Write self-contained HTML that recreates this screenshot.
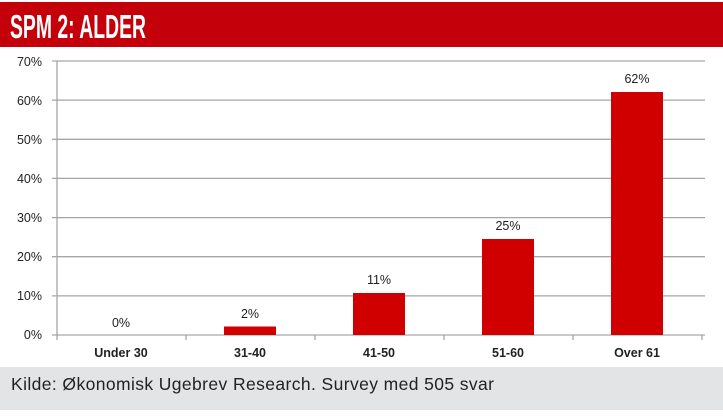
<!DOCTYPE html>
<html><head><meta charset="utf-8"><style>
body{margin:0;background:#fff;width:723px;height:413px;overflow:hidden;font-family:"Liberation Sans",sans-serif}
</style></head><body>
<svg width="723" height="413" xmlns="http://www.w3.org/2000/svg">
<rect x="0" y="2" width="723" height="45" fill="#c4000b"/>
<text x="10" y="38" font-family="Liberation Sans Narrow, Liberation Sans, sans-serif" font-weight="bold" font-size="33" fill="#fff" textLength="136" lengthAdjust="spacingAndGlyphs">SPM 2: ALDER</text>
<g stroke="#a6a6a6" stroke-width="1.3">
<line x1="52" y1="61" x2="705" y2="61"/>
<line x1="52" y1="100.1" x2="705" y2="100.1"/>
<line x1="52" y1="139.3" x2="705" y2="139.3"/>
<line x1="52" y1="178.4" x2="705" y2="178.4"/>
<line x1="52" y1="217.6" x2="705" y2="217.6"/>
<line x1="52" y1="256.7" x2="705" y2="256.7"/>
<line x1="52" y1="295.9" x2="705" y2="295.9"/>
<line x1="52" y1="335" x2="705" y2="335"/>
<line x1="57" y1="61" x2="57" y2="340"/>
<line x1="186" y1="335" x2="186" y2="340"/>
<line x1="315" y1="335" x2="315" y2="340"/>
<line x1="444" y1="335" x2="444" y2="340"/>
<line x1="573" y1="335" x2="573" y2="340"/>
<line x1="702" y1="335" x2="702" y2="340"/>
</g>
<g font-size="12.5" fill="#222" text-anchor="end">
<text x="42" y="66">70%</text><text x="42" y="105">60%</text><text x="42" y="144">50%</text><text x="42" y="183">40%</text><text x="42" y="222">30%</text><text x="42" y="261">20%</text><text x="42" y="300">10%</text><text x="42" y="339">0%</text>
</g>
<g fill="#d00000">
<rect x="224" y="326.5" width="52" height="8.5"/>
<rect x="353" y="293" width="52" height="42"/>
<rect x="482" y="239" width="52" height="96"/>
<rect x="611" y="92" width="52" height="243"/>
</g>
<g font-size="12.5" fill="#222" text-anchor="middle">
<text x="121" y="327">0%</text><text x="250" y="318">2%</text><text x="379" y="284">11%</text><text x="508" y="230">25%</text><text x="637" y="83">62%</text>
</g>
<g font-size="12.5" font-weight="bold" fill="#222" text-anchor="middle">
<text x="121" y="357">Under 30</text><text x="250" y="357">31-40</text><text x="379" y="357">41-50</text><text x="508" y="357">51-60</text><text x="637" y="357">Over 61</text>
</g>
<rect x="0" y="367" width="723" height="43" fill="#e3e4e6"/>
<text x="11" y="390" font-size="17.5" fill="#222" textLength="483" lengthAdjust="spacing">Kilde: Økonomisk Ugebrev Research. Survey med 505 svar</text>
</svg>
</body></html>
